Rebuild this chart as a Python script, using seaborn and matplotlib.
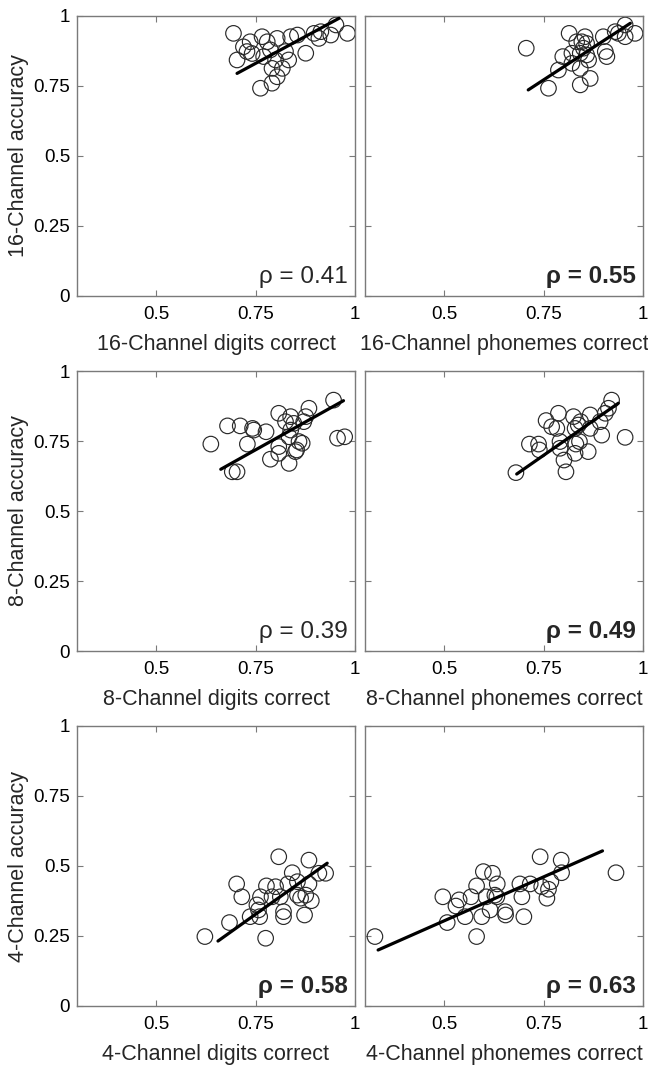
import numpy as np
import pandas as pd
import matplotlib
matplotlib.use("Agg")
import matplotlib.pyplot as plt
import seaborn as sns

sns.set_theme(style="white")
plt.rcParams['font.family'] = ['Liberation Sans', 'DejaVu Sans']

# ---- 16-channel ----
x16_digits = [0.694, 0.719, 0.736, 0.728, 0.741, 0.703, 0.766, 0.779, 0.804, 0.787,
              0.770, 0.800, 0.791, 0.817, 0.804, 0.791, 0.762, 0.825, 0.838, 0.855,
              0.833, 0.876, 0.897, 0.909, 0.914, 0.939, 0.952, 0.981]
y16_digits = [0.938, 0.890, 0.908, 0.873, 0.866, 0.843, 0.926, 0.908, 0.920, 0.879,
              0.855, 0.843, 0.813, 0.813, 0.783, 0.760, 0.742, 0.873, 0.926, 0.932,
              0.843, 0.867, 0.938, 0.920, 0.944, 0.932, 0.968, 0.938]
fit16_digits_x = [0.703, 0.960]
fit16_digits_y = [0.795, 0.992]

x16_phon = [0.706, 0.814, 0.762, 0.787, 0.798, 0.821, 0.821, 0.842, 0.867, 0.842,
            0.846, 0.854, 0.858, 0.850, 0.858, 0.863, 0.842, 0.900, 0.905, 0.909,
            0.930, 0.938, 0.955, 0.955, 0.980, 0.833]
y16_phon = [0.885, 0.938, 0.742, 0.807, 0.855, 0.867, 0.831, 0.754, 0.777, 0.813,
            0.908, 0.926, 0.902, 0.885, 0.861, 0.843, 0.867, 0.926, 0.873, 0.855,
            0.944, 0.938, 0.968, 0.926, 0.938, 0.908]
fit16_phon_x = [0.711, 0.968]
fit16_phon_y = [0.736, 0.974]

# ---- 8-channel ----
x8_digits = [0.637, 0.679, 0.711, 0.742, 0.745, 0.776, 0.729, 0.691, 0.703, 0.808,
             0.838, 0.825, 0.846, 0.876, 0.884, 0.871, 0.838, 0.834, 0.859, 0.867,
             0.808, 0.808, 0.787, 0.834, 0.853, 0.850, 0.946, 0.956, 0.974]
y8_digits = [0.739, 0.804, 0.804, 0.795, 0.789, 0.783, 0.739, 0.640, 0.640, 0.849,
             0.837, 0.819, 0.813, 0.837, 0.867, 0.819, 0.789, 0.765, 0.748, 0.742,
             0.730, 0.706, 0.685, 0.670, 0.718, 0.712, 0.896, 0.760, 0.765]
fit8_digits_x = [0.662, 0.971]
fit8_digits_y = [0.649, 0.894]

x8_phon = [0.680, 0.714, 0.737, 0.739, 0.756, 0.770, 0.783, 0.787, 0.791, 0.791,
           0.801, 0.806, 0.825, 0.829, 0.837, 0.843, 0.840, 0.831, 0.829, 0.862,
           0.867, 0.867, 0.896, 0.892, 0.905, 0.913, 0.921, 0.955]
y8_phon = [0.637, 0.739, 0.739, 0.718, 0.823, 0.801, 0.795, 0.849, 0.748, 0.724,
           0.682, 0.640, 0.837, 0.795, 0.807, 0.819, 0.748, 0.739, 0.706, 0.712,
           0.843, 0.795, 0.771, 0.819, 0.849, 0.867, 0.896, 0.763]
fit8_phon_x = [0.682, 0.938]
fit8_phon_y = [0.632, 0.885]

# ---- 4-channel ----
x4_digits = [0.808, 0.884, 0.842, 0.909, 0.926, 0.702, 0.777, 0.800, 0.831, 0.855,
             0.884, 0.715, 0.762, 0.791, 0.812, 0.855, 0.863, 0.876, 0.890, 0.753,
             0.757, 0.736, 0.760, 0.820, 0.820, 0.873, 0.684, 0.622, 0.775]
y4_digits = [0.533, 0.521, 0.476, 0.474, 0.474, 0.436, 0.429, 0.426, 0.436, 0.444,
             0.436, 0.390, 0.390, 0.390, 0.390, 0.396, 0.385, 0.396, 0.376, 0.361,
             0.343, 0.319, 0.319, 0.337, 0.319, 0.325, 0.298, 0.248, 0.242]
fit4_digits_x = [0.655, 0.930]
fit4_digits_y = [0.232, 0.510]

x4_phon = [0.325, 0.496, 0.507, 0.529, 0.537, 0.552, 0.567, 0.581, 0.581, 0.598,
           0.594, 0.605, 0.615, 0.621, 0.627, 0.632, 0.633, 0.653, 0.654, 0.690,
           0.695, 0.700, 0.716, 0.741, 0.745, 0.758, 0.762, 0.768, 0.794, 0.795, 0.932]
y4_phon = [0.248, 0.390, 0.298, 0.357, 0.379, 0.319, 0.390, 0.429, 0.248, 0.480,
           0.319, 0.390, 0.343, 0.474, 0.396, 0.390, 0.436, 0.337, 0.325, 0.436,
           0.390, 0.319, 0.436, 0.533, 0.426, 0.385, 0.417, 0.444, 0.521, 0.476, 0.476]
fit4_phon_x = [0.333, 0.898]
fit4_phon_y = [0.200, 0.554]

xlabels = ["16-Channel digits correct", "16-Channel phonemes correct",
           "8-Channel digits correct", "8-Channel phonemes correct",
           "4-Channel digits correct", "4-Channel phonemes correct"]
ylabels = ["16-Channel accuracy", "8-Channel accuracy", "4-Channel accuracy"]
rho_labels = ["ρ = 0.41", "ρ = 0.55", "ρ = 0.39", "ρ = 0.49", "ρ = 0.58", "ρ = 0.63"]
rho_bold = [False, True, False, True, True, True]

xticks = [0.5, 0.75, 1]
xtick_labels = ["0.5", "0.75", "1"]
yticks = [0, 0.25, 0.5, 0.75, 1]
ytick_labels = ["0", "0.25", "0.5", "0.75", "1"]

panels = [
    (x16_digits, y16_digits, fit16_digits_x, fit16_digits_y),
    (x16_phon, y16_phon, fit16_phon_x, fit16_phon_y),
    (x8_digits, y8_digits, fit8_digits_x, fit8_digits_y),
    (x8_phon, y8_phon, fit8_phon_x, fit8_phon_y),
    (x4_digits, y4_digits, fit4_digits_x, fit4_digits_y),
    (x4_phon, y4_phon, fit4_phon_x, fit4_phon_y),
]

W, H = 648, 1068
fig = plt.figure(figsize=(W / 100, H / 100), dpi=100)
lefts = [77 / W, 365 / W]
bottoms = [1 - 296 / H, 1 - 651 / H, 1 - 1006 / H]
aw, ah = 278 / W, 280 / H
spine_col = "#7a7a7a"

for i, (px, py, fx, fy) in enumerate(panels):
    r, c = divmod(i, 2)
    ax = fig.add_axes([lefts[c], bottoms[r], aw, ah])
    df = pd.DataFrame({"x": px, "y": py})
    sns.scatterplot(data=df, x="x", y="y", ax=ax, s=125, marker="o",
                    facecolor="none", edgecolor="#2a2a2a", linewidth=0.85, zorder=2)
    fdf = pd.DataFrame({"x": fx, "y": fy})
    sns.lineplot(data=fdf, x="x", y="y", ax=ax, color="black", linewidth=2.3, zorder=3)
    ax.set_xlim(0.3, 1)
    ax.set_ylim(0, 1)
    ax.set_xticks(xticks)
    ax.set_xticklabels(xtick_labels)
    ax.set_yticks(yticks)
    ax.set_yticklabels(ytick_labels)
    ax.tick_params(direction="in", length=4, width=0.8, color=spine_col,
                   top=True, right=True, bottom=True, left=True,
                   labelsize=13.5, labelcolor="black")
    ax.tick_params(axis="x", pad=7)
    ax.tick_params(axis="y", pad=5)
    for sp in ax.spines.values():
        sp.set_color(spine_col)
        sp.set_linewidth(1.0)
    ax.set_xlabel(xlabels[i], fontsize=15.5, labelpad=8)
    if c == 0:
        ax.set_ylabel(ylabels[r], fontsize=15.5, labelpad=3)
    else:
        ax.set_ylabel("")
        ax.tick_params(labelleft=False)
    ax.text(0.975, 0.045, rho_labels[i], transform=ax.transAxes,
            ha="right", va="baseline", fontsize=17.5,
            fontweight="bold" if rho_bold[i] else "normal", zorder=4)

fig.savefig("out.png", dpi=100)
